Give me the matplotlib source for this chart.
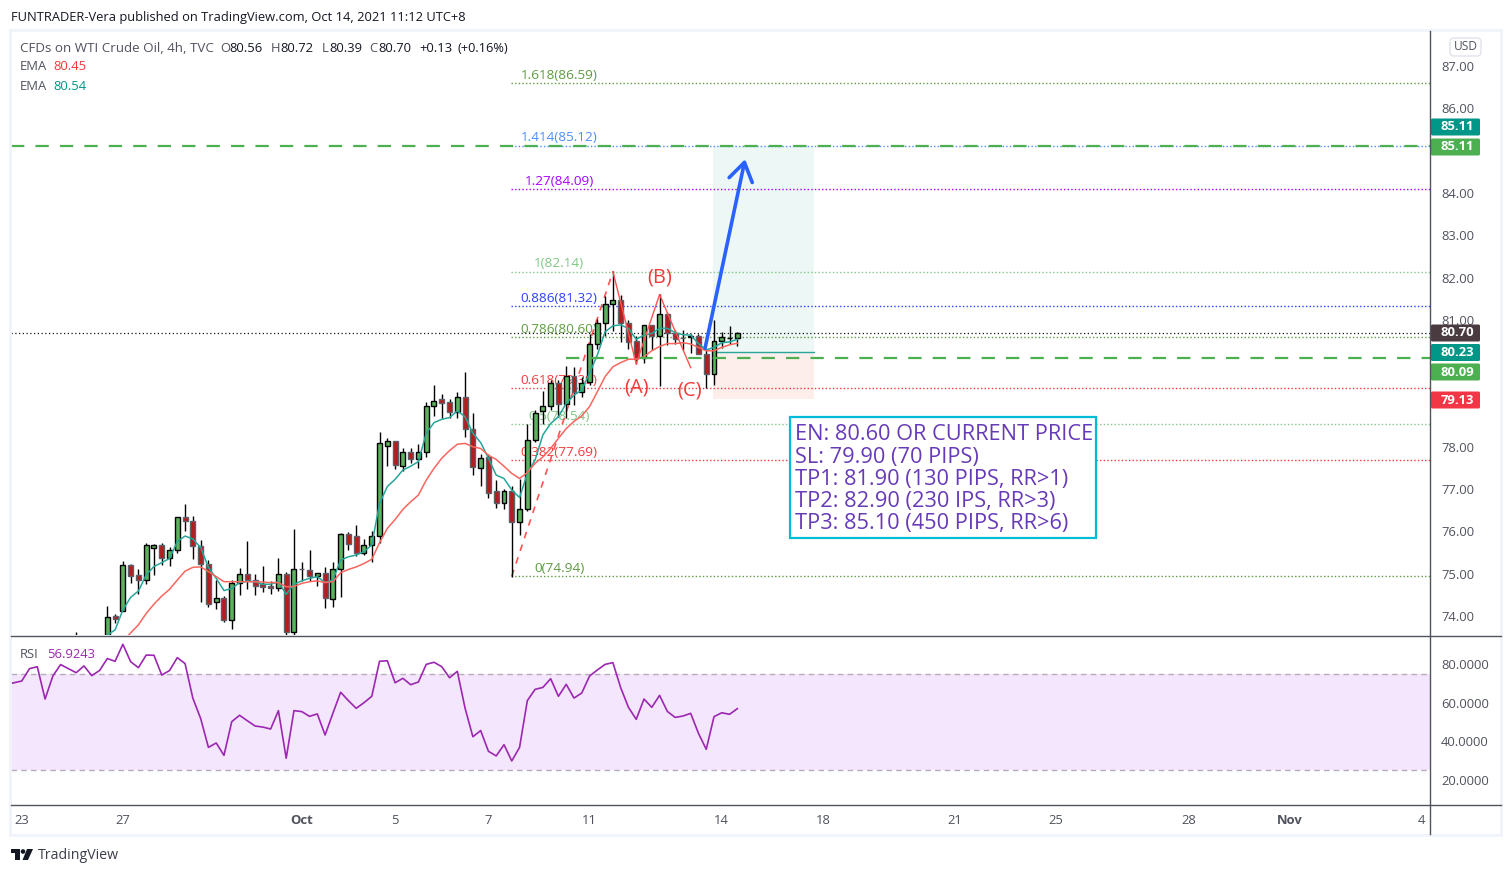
import matplotlib
matplotlib.use("Agg")
import matplotlib.pyplot as plt
from matplotlib.patches import Rectangle, FancyBboxPatch, Polygon, Circle

plt.rcParams['font.family'] = ['Open Sans', 'DejaVu Sans']

idx = [-4] + list(range(0, 82))
opens = [73.2, 73.4, 74.0, 74.12, 75.2, 74.96, 74.86, 75.61, 75.67, 75.38, 75.57, 76.33, 76.24, 75.65, 75.24, 74.34, 74.42,
         73.91, 74.79, 75.0, 74.86, 74.75, 74.7, 74.65, 75.0, 73.63, 75.12, 75.08, 74.95, 75.02, 74.39, 75.12, 75.93,
         75.88, 75.5, 75.67, 75.9, 78.03, 78.13, 77.55, 77.87, 77.72, 77.88, 78.97, 79.12, 79.07, 78.83, 79.17, 78.43,
         77.49, 77.75, 76.95, 76.68, 76.95, 76.21, 76.54, 78.16, 78.84, 78.96, 79.5, 79.01, 79.68, 79.29, 79.54, 80.44,
         80.92, 81.37, 81.48, 80.92, 80.49, 80.11, 80.87, 80.63, 81.15, 80.68, 80.57, 80.59, 80.63, 80.2, 79.71, 80.49,
         80.56, 80.56]
highs = [73.63, 74.23, 74.05, 75.3, 75.23, 75.1, 75.72, 75.7, 75.72, 75.62, 76.35, 76.65, 76.36, 75.8, 75.32, 74.85, 74.47,
         74.86, 75.13, 75.77, 74.99, 75.18, 74.82, 75.37, 75.05, 76.05, 75.27, 75.56, 75.02, 75.15, 75.27, 75.95, 75.98,
         76.15, 75.82, 76.0, 78.35, 78.21, 78.13, 77.96, 77.96, 78.06, 79.07, 79.45, 79.25, 79.12, 79.29, 79.77, 78.8,
         77.84, 77.84, 77.21, 77.0, 77.07, 77.25, 78.55, 78.87, 79.32, 79.59, 79.59, 79.9, 79.88, 79.64, 80.67, 81.01,
         81.56, 82.15, 81.59, 81.0, 80.62, 80.87, 80.87, 81.61, 81.19, 80.77, 80.76, 80.66, 80.66, 80.32, 81.0, 80.72,
         80.85, 80.72]
lows = [73.0, 73.3, 73.84, 74.12, 74.79, 74.52, 74.75, 74.97, 75.21, 75.18, 75.5, 76.0, 75.35, 74.34, 74.22, 74.17, 73.86,
        73.7, 74.5, 74.64, 74.5, 74.56, 74.52, 74.6, 73.5, 73.5, 74.83, 74.83, 74.71, 74.19, 74.22, 74.45, 75.56,
        75.41, 75.44, 75.28, 75.73, 77.54, 77.47, 77.43, 77.62, 77.5, 77.76, 78.73, 78.69, 78.69, 78.69, 78.22, 77.33,
        77.07, 76.8, 76.55, 76.53, 74.93, 75.92, 76.49, 78.12, 78.55, 78.87, 78.7, 78.67, 78.99, 79.17, 79.46, 80.3,
        80.62, 80.74, 80.48, 80.3, 79.96, 79.99, 80.29, 79.44, 80.41, 80.44, 80.29, 80.22, 80.19, 79.38, 79.46, 80.33,
        80.43, 80.39]
closes = [73.3, 73.98, 73.94, 75.2, 74.95, 74.85, 75.67, 75.67, 75.38, 75.57, 76.35, 76.25, 75.66, 75.22, 74.29, 74.42, 73.91,
          74.79, 75.0, 74.85, 74.72, 74.69, 74.65, 75.0, 73.63, 75.12, 75.1, 74.95, 75.02, 74.42, 75.12, 75.93, 75.71,
          75.49, 75.67, 75.9, 78.08, 78.13, 77.58, 77.87, 77.72, 77.87, 78.96, 79.09, 79.04, 78.83, 79.17, 78.43, 77.53,
          77.73, 76.9, 76.68, 76.95, 76.21, 76.54, 78.17, 78.81, 78.96, 79.5, 79.01, 79.67, 79.29, 79.5, 80.44, 80.92,
          81.37, 81.48, 80.93, 80.47, 80.09, 80.87, 80.63, 81.13, 80.68, 80.54, 80.56, 80.63, 80.2, 79.71, 80.49, 80.59,
          80.57, 80.7]

ema_fast_start = 0
ema_fast = [73.55, 73.67, 74.14, 74.44, 74.59, 74.97, 75.17, 75.26, 75.36, 75.76, 75.89, 75.82, 75.62, 75.15, 74.89, 74.6,
            74.65, 74.79, 74.82, 74.81, 74.75, 74.75, 74.81, 74.51, 74.75, 74.83, 74.89, 74.93, 74.79, 74.85, 75.32, 75.4,
            75.44, 75.52, 75.68, 76.66, 77.06, 77.23, 77.45, 77.54, 77.65, 78.32, 78.57, 78.65, 78.69, 78.85, 78.71, 78.32,
            78.1, 77.73, 77.33, 77.25, 76.98, 76.8, 77.37, 77.69, 78.28, 78.55, 78.71, 79.03, 79.22, 79.34, 79.74, 80.17,
            80.72, 80.86, 80.88, 80.8, 80.54, 80.64, 80.68, 80.8, 80.8, 80.7, 80.65, 80.64, 80.44, 80.29, 80.35, 80.46,
            80.48, 80.54]
ema_slow_start = 2
ema_slow = [73.4, 73.6, 73.79, 74.06, 74.28, 74.47, 74.63, 74.85, 75.06, 75.15, 75.16, 75.05, 74.93, 74.81, 74.81, 74.81,
            74.81, 74.81, 74.8, 74.79, 74.79, 74.69, 74.7, 74.77, 74.81, 74.83, 74.79, 74.81, 75.02, 75.1, 75.16, 75.24,
            75.34, 75.73, 76.07, 76.28, 76.52, 76.7, 76.86, 77.21, 77.49, 77.73, 77.91, 78.06, 78.08, 78.0, 77.96, 77.8,
            77.7, 77.54, 77.37, 77.25, 77.39, 77.61, 77.76, 77.96, 78.2, 78.43, 78.6, 78.73, 78.95, 79.3, 79.66, 79.89,
            79.99, 80.07, 80.07, 80.13, 80.27, 80.37, 80.44, 80.44, 80.46, 80.43, 80.35, 80.27, 80.27, 80.35, 80.41, 80.45]

rsi_start = -13
rsi = [69.5, 70.3, 71.2, 77.6, 78.6, 61.9, 73.8, 79.7, 77.6, 75.5, 79.0, 74.0, 76.6, 82.8, 81.4, 90.2, 81.2, 78.1, 84.6,
       84.5, 74.3, 76.6, 83.3, 80.2, 62.3, 51.9, 36.9, 39.2, 32.8, 50.2, 53.5, 50.7, 47.96, 47.4, 46.4, 55.9, 31.3, 55.9,
       55.4, 52.95, 54.2, 43.3, 54.5, 65.4, 61.05, 57.1, 60.0, 63.3, 81.4, 81.7, 70.3, 72.6, 69.3, 70.7, 79.8, 80.9, 78.6,
       72.9, 76.2, 57.1, 42.4, 45.6, 34.9, 32.5, 38.3, 29.9, 36.9, 61.05, 66.9, 67.9, 72.4, 63.3, 69.5, 62.4, 65.0, 73.8,
       76.9, 79.8, 80.7, 67.8, 57.6, 51.4, 61.9, 57.6, 63.8, 55.5, 52.4, 53.1, 54.5, 44.2, 35.9, 52.8, 54.8, 54.0, 56.92]

fib_ratios = ['0', '0.382', '0.5', '0.618', '0.786', '0.886', '1', '1.27', '1.414', '1.618']
fib_levels = [74.94, 77.69, 78.54, 79.39, 80.60, 81.32, 82.14, 84.09, 85.12, 86.59]
fib_colors = ['#5d9c3f', '#f23b3b', '#81c784', '#f23b3b', '#5d9c3f', '#2b3fff', '#81c784', '#aa00ff', '#4d8dff', '#5d9c3f']

price_ticks = [87, 86, 84, 83, 82, 81, 78, 77, 76, 75, 74]
rsi_ticks = [80, 60, 40, 20]
time_ticks = [-11, 2, 25, 37, 49, 62, 79, 92, 109, 122, 139, 152, 169]
time_labels = ['23', '27', 'Oct', '5', '7', '11', '14', '18', '21', '25', '28', 'Nov', '4']

zigzag_i = [65, 68, 71, 75]
zigzag_p = [82.14, 79.96, 81.6, 79.87]
fib_trend_i = [52, 65]
fib_trend_p = [74.94, 82.14]
target, entry, stop = 85.11, 80.23, 79.13
lower_dash = 80.09
last_price = 80.70
arrow_i = [76.85, 82.0]
arrow_p = [80.33, 84.8]

W, H = 1512, 874
fig = plt.figure(figsize=(W / 100, H / 100), dpi=100, facecolor='white')

def rect(x0, y0, x1, y1):
    return [x0 / W, 1 - y1 / H, (x1 - x0) / W, (y1 - y0) / H]

XL = (-12.38, 170.05)
ax = fig.add_axes(rect(11, 31, 1430, 635))
ax.set_xlim(*XL)
ax.set_ylim(73.55, 87.83)
rs = fig.add_axes(rect(11, 636, 1430, 804))
rs.set_xlim(*XL)
rs.set_ylim(7.65, 94.47)
for a in (ax, rs):
    for s in a.spines.values():
        s.set_visible(False)
    a.yaxis.tick_right()
    a.tick_params(axis='y', length=0, pad=8, labelsize=9.4, labelcolor='#50535e')
    a.set_xticks([])

ax.set_yticks(price_ticks)
ax.set_yticklabels([f'{p:.2f}' for p in price_ticks])
rs.set_yticks(rsi_ticks)
rs.set_yticklabels([f'{p:.4f}' for p in rsi_ticks])

# position tool
ax.add_patch(Rectangle((77.9, entry), 13, target - entry, fc='#edf7f5', ec='none', zorder=1))
ax.add_patch(Rectangle((77.9, stop), 13, entry - stop, fc='#fdeeec', ec='none', zorder=1))
ax.plot([77.9, 90.9], [entry, entry], color='#26a69a', lw=1, zorder=2)

# fibonacci
for r, lv, c in zip(fib_ratios, fib_levels, fib_colors):
    ax.plot([51.9, XL[1]], [lv, lv], color=c, lw=1, ls=(0, (1, 1.6)), zorder=2)
    ax.annotate(f'{r}({lv:.2f})', (58.1, lv), xytext=(0, 5.6), textcoords='offset points',
                ha='center', va='center', fontsize=9.7, color=c, zorder=2)
ax.plot(fib_trend_i, fib_trend_p, color='#ff5252', lw=1.2, ls=(0, (4, 4)), zorder=2)
ax.plot([XL[0], XL[1]], [last_price] * 2, color='#131722', lw=0.9, ls=(0, (1, 2)), zorder=2)

# candles
for i, o, h, l, c in zip(idx, opens, highs, lows, closes):
    up = c >= o
    ax.plot([i, i], [l, h], color='black', lw=1.0, zorder=3, solid_capstyle='butt')
    ax.add_patch(Rectangle((i - 0.32, min(o, c)), 0.64, max(abs(c - o), 0.02),
                           fc='#5cb25e' if up else '#b71c1c',
                           ec='black' if up else '#5d606b', lw=1.0, zorder=4))

ax.plot(range(ema_fast_start, ema_fast_start + len(ema_fast)), ema_fast, color='#26a69a', lw=1.1, zorder=5)
ax.plot(range(ema_slow_start, ema_slow_start + len(ema_slow)), ema_slow, color='#f9665e', lw=1.1, zorder=5)
ax.plot(zigzag_i, zigzag_p, color='#ff5252', lw=1, zorder=5)

# key levels
ax.plot(XL, [target, target], color='#4caf50', lw=1.6, ls=(0, (6, 5)), zorder=6)
ax.plot([59, XL[1]], [lower_dash, lower_dash], color='#4caf50', lw=1.6, ls=(0, (6, 5)), zorder=6)

ax.annotate('', xy=(arrow_i[1], arrow_p[1]), xytext=(arrow_i[0], arrow_p[0]),
            arrowprops=dict(arrowstyle='->,head_length=1.3,head_width=0.85', color='#2962ff', lw=2.6,
                            shrinkA=0, shrinkB=0), zorder=7)

for t, i, p in [('(A)', 68.1, 79.39), ('(B)', 71.0, 82.0), ('(C)', 74.9, 79.32)]:
    ax.text(i, p, t, color='#f23b3b', fontsize=14.5, ha='center', va='center', zorder=7)

# RSI pane
rs.axhspan(25, 75, color='#f4e6fd', lw=0, zorder=1)
for v in (25, 75):
    rs.axhline(v, color='#b6adbb', lw=1, ls=(0, (4, 3)), zorder=2)
rs.plot(range(rsi_start, rsi_start + len(rsi)), rsi, color='#9c27b0', lw=1.2, zorder=3)

# furniture overlay in pixel coordinates
ov = fig.add_axes([0, 0, 1, 1], facecolor='none')
ov.set_xlim(0, W)
ov.set_ylim(H, 0)
ov.axis('off')
ov.set_zorder(10)
FRAME = '#f0f3fa'
ov.add_patch(Rectangle((10, 30), 1491, 805, fc='none', ec=FRAME, lw=2))
ov.plot([1430, 1430], [31, 834], color='#50535e', lw=1)
ov.plot([11, 1501], [635.5, 635.5], color='#50535e', lw=1)
ov.plot([11, 1501], [804.5, 804.5], color='#50535e', lw=1)

for lab, i in zip(time_labels, time_ticks):
    bold = lab in ('Oct', 'Nov')
    ov.text(107.3 + 7.778 * i, 820, lab, ha='center', va='center', fontsize=9.4,
            color='#50535e', fontweight='bold' if bold else 'normal')

tags = [('85.11', 127, '#009688'), ('85.11', 147, '#4caf50'), ('80.70', 333, '#4a3b40'),
        ('80.23', 352.5, '#009688'), ('80.09', 372, '#4caf50'), ('79.13', 400, '#f23645')]
for t, y, c in tags:
    ov.add_patch(FancyBboxPatch((1431, y - 8.5), 49, 17, boxstyle='round,pad=0,rounding_size=1.5', fc=c, ec='none'))
    ov.text(1457, y, t, color='white', fontsize=9.4, fontweight='bold', ha='center', va='center')
ov.add_patch(FancyBboxPatch((1450, 38), 31, 18, boxstyle='round,pad=0,rounding_size=4', fc='white', ec='#e0e3eb', lw=1))
ov.text(1465.5, 47, 'USD', color='#50535e', fontsize=8.6, ha='center', va='center')

ov.text(11, 18, 'FUNTRADER-Vera published on TradingView.com, Oct 14, 2021 11:12 UTC+8',
        fontsize=9.3, color='#131722', va='center')
G, K = '#50535e', '#131722'
legend = [(20, 48.5, 'CFDs on WTI Crude Oil, 4h, TVC', G, 9.6), (220, 48.5, 'O', G, 9.4), (229, 48.5, '80.56', K, 9.4),
          (271, 48.5, 'H', G, 9.4), (280, 48.5, '80.72', K, 9.4), (322, 48.5, 'L', G, 9.4), (329, 48.5, '80.39', K, 9.4),
          (369, 48.5, 'C', G, 9.4), (378, 48.5, '80.70', K, 9.4), (419, 48.5, '+0.13', K, 9.4), (457, 48.5, '(+0.16%)', K, 9.2),
          (20, 67, 'EMA', G, 9.4), (53, 67, '80.45', '#f23b3b', 9.4), (20, 86, 'EMA', G, 9.4), (53, 86, '80.54', '#009688', 9.4),
          (20, 654.5, 'RSI', G, 9.4), (47, 654.5, '56.9243', '#9c27b0', 9.4)]
for x, y, t, c, fs in legend:
    ov.text(x, y, t, color=c, fontsize=fs, va='center')

# note box
ov.add_patch(Rectangle((790, 416.5), 306, 121.5, fc='white', ec='#00bcd4', lw=1.6))
notes = ['EN: 80.60 OR CURRENT PRICE', 'SL: 79.90 (70 PIPS)', 'TP1: 81.90 (130 PIPS, RR>1)',
         'TP2: 82.90 (230 IPS, RR>3)', 'TP3: 85.10 (450 PIPS, RR>6)']
for n, y in zip(notes, [434, 457, 479, 502, 524]):
    ov.text(795, y, n, color='#673ab7', fontsize=15.7, va='center')

# logo
ov.add_patch(Polygon([(11, 849), (20, 849), (20, 860), (15, 860), (15, 853), (11, 853)], fc='#131722', ec='none'))
ov.add_patch(Circle((23, 851.5), 2.3, fc='#131722', ec='none'))
ov.add_patch(Polygon([(27, 849), (33, 849), (28, 860), (22.5, 860)], fc='#131722', ec='none'))
ov.text(38, 855.5, 'TradingView', fontsize=10.2, color='#3a3e4a', va='center')

fig.savefig('out.png', dpi=100)
